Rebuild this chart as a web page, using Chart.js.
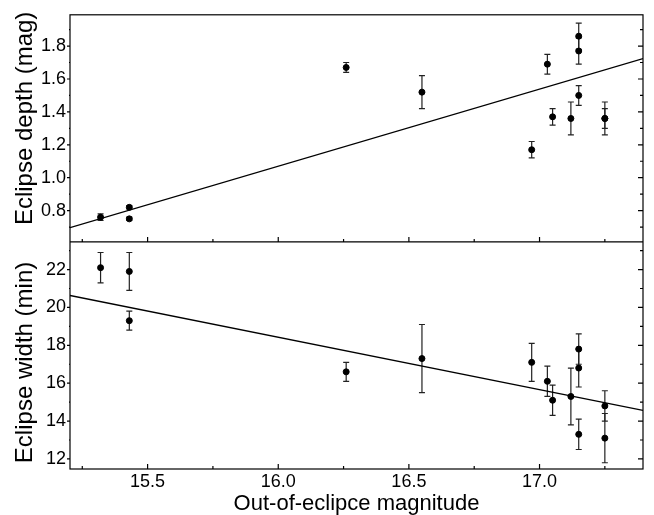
<!DOCTYPE html>
<html>
<head>
<meta charset="utf-8">
<script src="https://cdn.jsdelivr.net/npm/chart.js@4/dist/chart.umd.min.js"></script>
<style>
  body { margin: 0; background: #fff; }
  #wrap { width: 654px; height: 515px; }
</style>
</head>
<body>
<div id="wrap"><canvas id="chart" width="654" height="515"></canvas></div>
<script>
// out-of-eclipse magnitude of each system, shared by both panels
const magnitude = [15.32, 15.43, 15.43, 16.26, 16.55, 16.97, 17.03, 17.05, 17.12, 17.15, 17.15, 17.15, 17.25, 17.25];
const depth     = [0.76, 0.82, 0.75, 1.67, 1.52, 1.17, 1.69, 1.37, 1.36, 1.86, 1.77, 1.50, 1.36, 1.36];
const depthErr  = [0.02, 0.01, 0.01, 0.03, 0.10, 0.05, 0.06, 0.05, 0.10, 0.08, 0.08, 0.06, 0.10, 0.06];
const width     = [22.1, 21.9, 19.3, 16.6, 17.3, 17.1, 16.1, 15.1, 15.3, 17.8, 16.8, 13.3, 14.8, 13.1];
const widthErr  = [0.8, 1.0, 0.5, 0.5, 1.8, 1.0, 0.8, 0.8, 1.5, 0.8, 1.0, 0.8, 0.8, 1.3];

// linear fits, evaluated at the axis ends
const fitX     = [15.203, 17.396];
const depthFit = [0.696, 1.724];
const widthFit = [20.63, 14.56];

const xTicks      = [15.5, 16.0, 16.5, 17.0];
const xMinor      = [15.25, 15.75, 16.25, 16.75, 17.25];
const depthTicks  = [0.8, 1.0, 1.2, 1.4, 1.6, 1.8];
const depthMinor  = [0.7, 0.9, 1.1, 1.3, 1.5, 1.7, 1.9];
const widthTicks  = [12, 14, 16, 18, 20, 22];
const widthMinor  = [13, 15, 17, 19, 21, 23];

const FONT = 'Liberation Sans, Arial, Helvetica, sans-serif';

const pts = (ys) => magnitude.map((m, i) => ({ x: m, y: ys[i] }));
const line = (ys) => fitX.map((x, i) => ({ x, y: ys[i] }));

const panels = {
  id: 'panels',
  beforeDatasetsDraw(chart) {
    const { ctx, scales } = chart;
    ctx.save();
    ctx.strokeStyle = '#222';
    ctx.lineWidth = 1.2;
    [[scales.yD, depth, depthErr], [scales.yW, width, widthErr]].forEach(([ys, vals, errs]) => {
      vals.forEach((v, i) => {
        const px = scales.x.getPixelForValue(magnitude[i]);
        const top = ys.getPixelForValue(v + errs[i]);
        const bot = ys.getPixelForValue(v - errs[i]);
        ctx.beginPath();
        ctx.moveTo(px, top); ctx.lineTo(px, bot);
        ctx.moveTo(px - 3, top); ctx.lineTo(px + 3, top);
        ctx.moveTo(px - 3, bot); ctx.lineTo(px + 3, bot);
        ctx.stroke();
      });
    });
    ctx.restore();
  },
  afterDraw(chart) {
    const { ctx, scales, chartArea: a } = chart;
    const sep = scales.yD.bottom;
    ctx.save();
    ctx.strokeStyle = '#000';
    ctx.lineWidth = 1.2;
    ctx.strokeRect(a.left, a.top, a.right - a.left, a.bottom - a.top);
    ctx.beginPath();
    ctx.moveTo(a.left, sep); ctx.lineTo(a.right, sep);

    const yMarks = (ys, vals, len) => vals.forEach(v => {
      const py = ys.getPixelForValue(v);
      ctx.moveTo(a.left - len + 1, py); ctx.lineTo(a.left, py);
      ctx.moveTo(a.right, py); ctx.lineTo(a.right - len - 1, py);
    });
    yMarks(scales.yD, depthTicks, 4);
    yMarks(scales.yD, depthMinor, 2);
    yMarks(scales.yW, widthTicks, 4);
    yMarks(scales.yW, widthMinor, 2);

    const xMarks = (vals, len) => vals.forEach(v => {
      const px = scales.x.getPixelForValue(v);
      ctx.moveTo(px, a.bottom); ctx.lineTo(px, a.bottom - len);
      ctx.moveTo(px, sep); ctx.lineTo(px, sep - len);
    });
    xMarks(xTicks, 5);
    xMarks(xMinor, 3);
    ctx.stroke();

    ctx.fillStyle = '#000';
    ctx.font = '24px ' + FONT;
    ctx.textAlign = 'center';
    ctx.textBaseline = 'middle';
    [[scales.yD, 'Eclipse depth (mag)', -10], [scales.yW, 'Eclipse width (min)', 7]].forEach(([ys, text, shift]) => {
      ctx.save();
      ctx.translate(25, (ys.top + ys.bottom) / 2 + shift);
      ctx.rotate(-Math.PI / 2);
      ctx.fillText(text, 0, 0);
      ctx.restore();
    });
    ctx.restore();
  }
};

const tickFont = { family: FONT, size: 18 };
const setTicks = (vals) => (s) => { s.ticks = vals.map(v => ({ value: v })); };

new Chart(document.getElementById('chart'), {
  type: 'scatter',
  data: {
    datasets: [
      { data: pts(depth), yAxisID: 'yD', backgroundColor: '#000', borderColor: '#000', pointRadius: 3 },
      { data: pts(width), yAxisID: 'yW', backgroundColor: '#000', borderColor: '#000', pointRadius: 3 },
      { data: line(depthFit), yAxisID: 'yD', showLine: true, pointRadius: 0, borderColor: '#000', borderWidth: 1.3 },
      { data: line(widthFit), yAxisID: 'yW', showLine: true, pointRadius: 0, borderColor: '#000', borderWidth: 1.3 },
    ],
  },
  options: {
    responsive: false,
    animation: false,
    layout: { padding: { top: 6, right: 11, left: 0, bottom: 0 } },
    plugins: { legend: { display: false }, tooltip: { enabled: false } },
    scales: {
      x: {
        type: 'linear',
        min: 15.203,
        max: 17.396,
        afterBuildTicks: setTicks(xTicks),
        afterFit: (s) => { s.height = 46; },
        grid: { display: false, drawTicks: false },
        border: { display: false },
        ticks: { font: tickFont, color: '#000', padding: 2, maxRotation: 0, autoSkip: false, callback: v => v.toFixed(1) },
        title: { display: true, text: 'Out-of-eclipce magnitude', color: '#000', padding: 0, font: { family: FONT, size: 22, lineHeight: 1 } },
      },
      yW: {
        type: 'linear',
        position: 'left',
        stack: 'panels',
        stackWeight: 1,
        min: 11.47,
        max: 23.46,
        afterBuildTicks: setTicks(widthTicks),
        afterFit: (s) => { s.width = 70; },
        grid: { display: false, drawTicks: false },
        border: { display: false },
        ticks: { font: tickFont, color: '#000', padding: 4, callback: v => String(v) },
      },
      yD: {
        type: 'linear',
        position: 'left',
        stack: 'panels',
        stackWeight: 1,
        min: 0.61,
        max: 1.99,
        afterBuildTicks: setTicks(depthTicks),
        afterFit: (s) => { s.width = 70; },
        grid: { display: false, drawTicks: false },
        border: { display: false },
        ticks: { font: tickFont, color: '#000', padding: 4, callback: v => v.toFixed(1) },
      },
    },
  },
  plugins: [panels],
});
</script>
</body>
</html>
